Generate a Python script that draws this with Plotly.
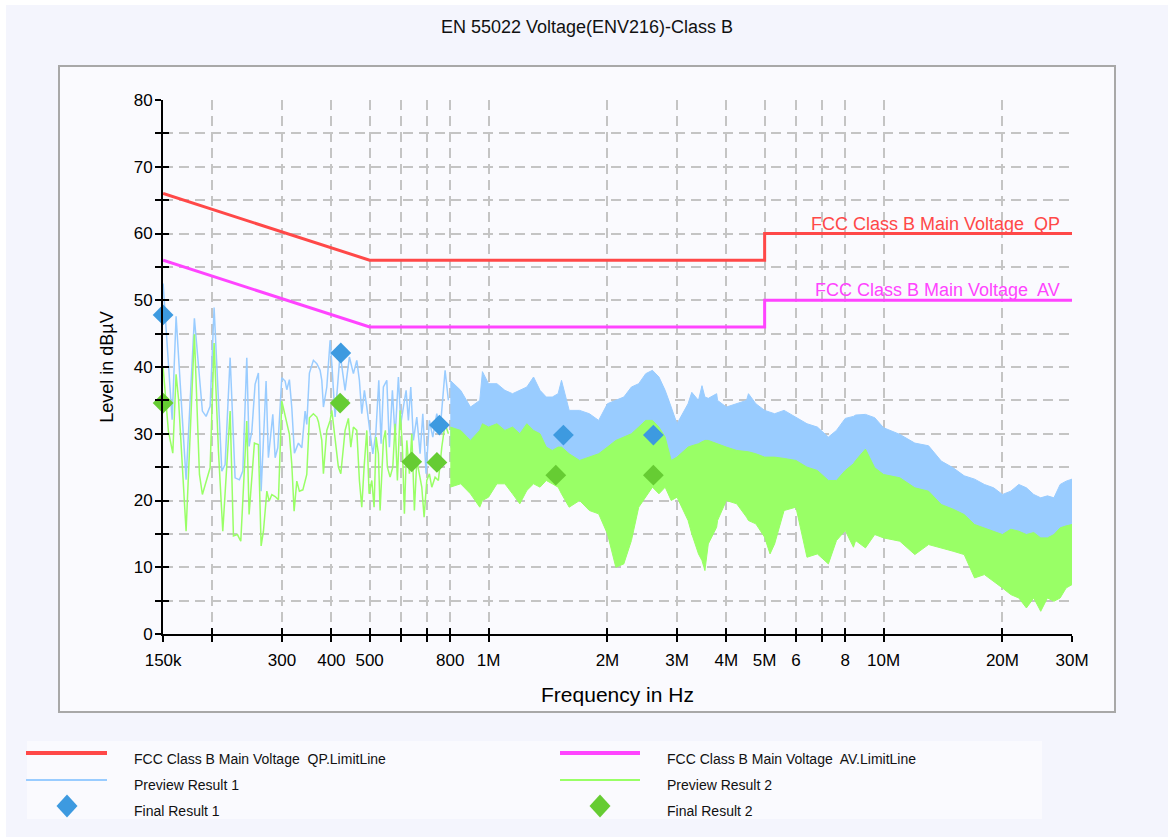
import numpy as np
import plotly.graph_objects as go

# ---------------- data ----------------
# Limit lines (frequency in MHz, level in dBuV)
limit_freq_mhz = [0.15, 0.5, 5.0, 5.0, 30.0]
qp_limit = [66, 56, 56, 60, 60]
av_limit = [56, 46, 46, 50, 50]

# Preview scans, sparse low-frequency part (frequency in kHz)
prev1_freq_khz = [150.0, 158.1, 161.8, 171.5, 180.0, 188.6, 192.7, 197.3, 201.9, 211.2,
                  215.3, 221.7, 228.2, 234.0, 238.7, 244.3, 247.6, 251.6, 256.4, 261.4,
                  265.6, 273.4, 277.1, 284.3, 288.2, 292.7, 299.6, 305.5, 308.5, 313.2,
                  317.6, 322.5, 330.1, 336.7, 343.2, 346.6, 351.9, 360.2, 367.5, 374.6,
                  378.3, 381.9, 389.5, 397.1, 401.0, 408.8, 420.9, 433.3, 444.3, 454.8,
                  463.9, 471.0, 477.6, 484.9, 491.8, 501.3, 509.3, 518.3, 527.4, 534.5,
                  541.7, 552.6, 561.0, 570.9, 580.0, 591.2, 599.6, 608.7, 618.4, 626.7,
                  635.5, 645.3, 658.2, 671.0, 681.6, 694.8, 708.3, 722.5, 739.5, 753.9,
                  776.2, 791.3]
prev1_level = [52.5, 32.1, 47.6, 23.1, 47.3, 33.4, 32.6, 34.1, 48.9, 24.4,
               25.4, 41.4, 23.4, 23.1, 24.4, 41.4, 28.1, 30.4, 37.4, 39.1,
               21.4, 37.9, 26.4, 32.9, 26.4, 27.9, 38.4, 37.9, 36.6, 38.1,
               33.9, 27.1, 28.6, 27.9, 33.4, 31.4, 39.1, 41.0, 40.5, 39.5,
               38.0, 34.0, 37.0, 44.0, 40.5, 32.5, 42.0, 36.5, 41.5, 39.0,
               41.0, 38.0, 33.0, 36.5, 34.0, 30.0, 27.0, 30.0, 38.0, 28.5,
               37.0, 38.0, 28.0, 36.5, 29.5, 38.5, 31.5, 34.0, 36.5, 32.0,
               37.0, 29.0, 32.5, 27.0, 33.0, 24.0, 32.0, 29.5, 33.0, 30.5,
               39.5, 35.0]

prev2_freq_khz = [150.0, 154.7, 158.7, 161.8, 164.0, 171.5, 180.0, 185.4, 188.6, 197.3,
                  201.9, 207.1, 212.4, 221.7, 226.0, 231.3, 235.9, 244.3, 247.6, 255.4,
                  261.4, 265.6, 269.2, 274.6, 278.3, 282.7, 288.2, 293.8, 299.6, 305.5,
                  313.2, 317.6, 321.9, 327.0, 332.0, 338.7, 346.6, 351.9, 353.4, 360.2,
                  367.5, 370.9, 378.3, 381.9, 389.5, 397.1, 401.0, 408.8, 416.7, 422.6,
                  433.3, 441.7, 448.0, 454.8, 463.9, 471.0, 477.6, 484.1, 491.8, 498.4,
                  506.3, 513.1, 519.2, 526.2, 531.4, 541.7, 548.1, 554.5, 563.3, 572.2,
                  580.0, 587.8, 597.1, 605.2, 612.3, 620.9, 630.4, 639.3, 649.0, 658.2,
                  668.2, 677.6, 686.8, 697.7, 708.3, 718.3, 732.3, 746.5, 761.4, 776.2,
                  791.3]
prev2_level = [39.9, 30.4, 27.1, 38.9, 35.4, 15.4, 44.9, 23.9, 20.9, 24.9,
               43.6, 27.4, 15.4, 33.4, 14.7, 14.9, 13.9, 31.9, 17.9, 28.6,
               28.4, 13.2, 15.4, 21.4, 19.9, 20.9, 20.6, 20.1, 34.9, 32.9,
               29.9, 25.4, 18.4, 22.9, 21.4, 21.6, 23.9, 32.4, 32.5, 33.0,
               32.5, 31.8, 29.0, 24.0, 30.5, 32.0, 33.5, 29.5, 25.0, 24.0,
               30.5, 32.3, 28.0, 31.0, 30.5, 23.0, 19.0, 25.0, 30.5, 21.0,
               23.0, 19.0, 29.5, 27.0, 18.5, 29.0, 30.5, 25.0, 23.5, 25.0,
               31.5, 23.0, 33.5, 28.0, 18.0, 29.0, 24.0, 30.0, 18.5, 26.0,
               24.0, 22.0, 17.5, 23.0, 24.0, 22.0, 23.5, 23.0, 28.0, 31.5,
               30.0]

# Preview scans, dense part above 800 kHz: upper / lower envelope (frequency in MHz)
band_freq_mhz = [0.8, 0.85, 0.9, 0.95, 0.965, 1.0, 1.05, 1.1, 1.15, 1.2,
                 1.25, 1.3, 1.35, 1.4, 1.45, 1.5, 1.53, 1.6, 1.7, 1.8,
                 1.9, 2.0, 2.1, 2.2, 2.3, 2.4, 2.5, 2.6, 2.7, 2.8,
                 2.9, 3.0, 3.2, 3.27, 3.4, 3.47, 3.53, 3.6, 3.78, 3.8, 4.0, 4.25, 4.5,
                 4.55, 4.75, 5.0, 5.16, 5.3, 5.6, 6.0, 6.4, 6.8, 7.25, 7.6, 8.0,
                 8.39, 8.5, 9.0, 9.5, 10, 11, 12, 13, 14, 15, 16,
                 17, 18, 19, 20, 21, 22, 23, 24, 25, 26,
                 27, 28, 29, 30]
prev1_upper = [38.0, 36.5, 34.0, 35.0, 39.3, 37.5, 37.5, 36.5, 36.0, 36.5,
               37.0, 38.5, 36.5, 35.5, 35.5, 36.0, 38.0, 33.5, 33.5, 33.0,
               32.0, 34.5, 35.0, 35.5, 37.0, 37.5, 39.0, 39.5, 38.5, 36.5,
               34.0, 31.5, 34.5, 36.2, 35.0, 37.2, 35.5, 35.3, 36.0, 35.0, 34.0, 34.5, 35.0,
               36.0, 34.5, 33.5, 33.2, 33.0, 33.5, 32.5, 31.5, 31.0, 29.5, 30.5, 32.3,
               32.6, 32.8, 32.9, 32.4, 30.9, 29.9, 28.6, 28.2, 25.9, 24.9, 23.7,
               23.2, 22.4, 21.9, 20.9, 21.4, 22.4, 21.9, 20.9, 20.4, 20.7,
               20.4, 22.4, 22.9, 23.2]
prev1_lower = [28.0, 28.0, 26.5, 27.0, 27.0, 28.0, 29.0, 28.0, 28.5, 27.5,
               29.0, 28.0, 27.5, 26.0, 25.5, 26.0, 26.0, 25.0, 24.0, 24.5,
               25.0, 26.0, 27.0, 27.5, 28.0, 29.0, 30.0, 30.0, 29.0, 27.5,
               24.5, 25.0, 26.0, 26.2, 26.5, 26.5, 26.5, 27.0, 26.5, 26.5, 26.0, 25.5, 25.3,
               25.3, 25.0, 24.5, 24.5, 24.5, 24.3, 24.0, 23.0, 22.5, 21.5, 21.5, 22.5,
               23.5, 24.0, 25.0, 23.0, 22.0, 21.5, 20.0, 19.5, 17.5, 17.0, 16.0,
               15.0, 14.5, 14.0, 13.5, 14.0, 13.5, 13.5, 13.5, 13.0, 13.0,
               13.5, 14.0, 14.5, 15.0]
prev2_upper = [31.0, 30.5, 29.0, 30.5, 31.5, 31.0, 31.5, 30.5, 31.0, 30.0,
               31.5, 30.5, 30.0, 28.0, 27.5, 28.0, 28.0, 27.0, 26.0, 26.5,
               27.0, 28.0, 29.0, 29.5, 30.0, 31.0, 32.0, 32.0, 31.0, 29.5,
               26.0, 26.5, 28.0, 28.2, 28.5, 28.8, 29.0, 29.0, 28.5, 28.5, 28.0, 27.5, 27.3,
               27.3, 27.0, 26.5, 26.5, 26.5, 26.3, 26.0, 25.0, 24.5, 23.0, 23.0, 24.5,
               25.5, 26.0, 27.7, 24.9, 23.9, 23.4, 21.9, 21.4, 19.4, 18.7, 17.9,
               16.4, 15.9, 15.4, 14.9, 15.7, 15.4, 14.9, 15.2, 14.4, 14.4,
               14.9, 15.9, 16.2, 16.4]
prev2_lower = [22.0, 22.5, 21.0, 19.0, 20.0, 20.5, 22.5, 22.5, 21.0, 19.5,
               21.5, 22.5, 22.0, 23.0, 22.5, 22.0, 21.0, 19.0, 20.0, 18.5,
               18.0, 15.0, 10.0, 10.5, 14.0, 19.0, 20.5, 22.0, 21.0, 22.0,
               20.0, 20.5, 17.0, 15.0, 12.0, 11.0, 9.5, 13.5, 16.0, 17.0, 20.0, 19.5, 17.5,
               17.0, 16.5, 14.5, 12.0, 13.5, 18.5, 19.0, 11.5, 12.0, 10.5, 14.0, 15.5,
               13.0, 14.0, 12.9, 14.9, 14.4, 13.9, 11.9, 13.4, 12.9, 12.4, 11.9,
               8.4, 8.9, 7.9, 6.9, 5.9, 5.4, 3.9, 5.4, 3.4, 5.4,
               4.9, 5.4, 6.9, 7.4]

# Final (re-measured) results, frequency in MHz
final1_freq_mhz = [0.150, 0.4226, 0.751, 1.547, 2.614]
final1_level = [47.8, 42.1, 31.3, 29.8, 29.8]
final2_freq_mhz = [0.150, 0.421, 0.639, 0.740, 1.480, 2.614]
final2_level = [34.6, 34.6, 25.8, 25.7, 23.8, 23.8]

# Axis ticks
x_tick_hz = [150e3, 200e3, 300e3, 400e3, 500e3, 600e3, 700e3, 800e3, 1e6,
             2e6, 3e6, 4e6, 5e6, 6e6, 7e6, 8e6, 10e6, 20e6, 30e6]
x_tick_text = ["150k", "", "300", "400", "500", "", "", "800", "1M",
               "2M", "3M", "4M", "5M", "6", "", "8", "10M", "20M", "30M"]
y_tick_vals = list(range(0, 81, 5))
y_tick_text = [str(v) if v % 10 == 0 else "" for v in y_tick_vals]

# ---------------- styles ----------------
FONT = "Liberation Sans, Arial, sans-serif"
C_QP = "#ff4848"
C_AV = "#ff44ff"
C_P1 = "#99ccff"
C_P2 = "#99ff66"
C_F1 = "#3d9ae0"
C_F2 = "#66cc33"
GRID = "#c4c4c4"

W, H = 1168, 837
L, R, T, B = 163, 96, 100, 203
PW, PH = W - L - R, H - T - B


def px(xp):
    return (xp - L) / PW


def py(yp):
    return (H - B - yp) / PH


mhz = lambda v: np.asarray(v, dtype=float) * 1e6
khz = lambda v: np.asarray(v, dtype=float) * 1e3

fig = go.Figure()

fig.add_trace(go.Scatter(x=mhz(limit_freq_mhz), y=qp_limit, mode="lines",
                         name="FCC Class B Main Voltage  QP.LimitLine",
                         line=dict(color=C_QP, width=3)))
fig.add_trace(go.Scatter(x=mhz(limit_freq_mhz), y=av_limit, mode="lines",
                         name="FCC Class B Main Voltage  AV.LimitLine",
                         line=dict(color=C_AV, width=3)))

# Preview Result 1
fig.add_trace(go.Scatter(x=khz(prev1_freq_khz), y=prev1_level, mode="lines",
                         name="Preview Result 1", line=dict(color=C_P1, width=1.5)))
bf = mhz(band_freq_mhz)
fig.add_trace(go.Scatter(x=np.concatenate([bf, bf[::-1]]),
                         y=np.concatenate([prev1_upper, prev1_lower[::-1]]),
                         mode="lines", fill="toself", fillcolor=C_P1,
                         line=dict(color=C_P1, width=1), name="Preview Result 1",
                         hoverinfo="skip"))
# Preview Result 2
fig.add_trace(go.Scatter(x=khz(prev2_freq_khz), y=prev2_level, mode="lines",
                         name="Preview Result 2", line=dict(color=C_P2, width=1.5)))
fig.add_trace(go.Scatter(x=np.concatenate([bf, bf[::-1]]),
                         y=np.concatenate([prev2_upper, prev2_lower[::-1]]),
                         mode="lines", fill="toself", fillcolor=C_P2,
                         line=dict(color=C_P2, width=1), name="Preview Result 2",
                         hoverinfo="skip"))

fig.add_trace(go.Scatter(x=mhz(final1_freq_mhz), y=final1_level, mode="markers",
                         name="Final Result 1", cliponaxis=False,
                         marker=dict(symbol="diamond", size=16, color=C_F1, line=dict(width=0))))
fig.add_trace(go.Scatter(x=mhz(final2_freq_mhz), y=final2_level, mode="markers",
                         name="Final Result 2", cliponaxis=False,
                         marker=dict(symbol="diamond", size=16, color=C_F2, line=dict(width=0))))

# Carrier for the overlaid tick axes (draws nothing visible)
fig.add_trace(go.Scatter(x=mhz(limit_freq_mhz), y=qp_limit, xaxis="x2", yaxis="y2",
                         mode="lines", line=dict(width=0), opacity=0,
                         hoverinfo="skip", name="axis carrier"))

# Limit line captions
x_end = np.log10(mhz(limit_freq_mhz)[-1])
annotations = [
    dict(x=x_end, y=qp_limit[-1], xref="x", yref="y", text="FCC Class B Main Voltage  QP",
         showarrow=False, xanchor="right", yanchor="bottom", xshift=-10, yshift=-2,
         font=dict(family=FONT, size=18, color=C_QP)),
    dict(x=x_end, y=av_limit[-1], xref="x", yref="y", text="FCC Class B Main Voltage  AV",
         showarrow=False, xanchor="right", yanchor="bottom", xshift=-10, yshift=-2,
         font=dict(family=FONT, size=18, color=C_AV)),
]

shapes = [
    # page background and chart frame
    dict(type="rect", xref="paper", yref="paper", x0=px(6), x1=px(W), y0=py(5), y1=py(H),
         fillcolor="#f4f5fd", line=dict(width=0), layer="below"),
    dict(type="rect", xref="paper", yref="paper", x0=px(59), x1=px(1115), y0=py(66), y1=py(712),
         fillcolor="#fafafe", line=dict(color="#a8a8a8", width=2), layer="below"),
    dict(type="rect", xref="paper", yref="paper", x0=px(27), x1=px(1042), y0=py(741), y1=py(819),
         fillcolor="#fafafe", line=dict(width=0), layer="below"),
]

# Legend (two columns, three rows)
legend_rows = [
    ("FCC Class B Main Voltage  QP.LimitLine", C_QP, "line", 4, 26, 107, 132, 753, 759),
    ("FCC Class B Main Voltage  AV.LimitLine", C_AV, "line", 4, 560, 640, 665, 753, 759),
    ("Preview Result 1", C_P1, "line", 2, 26, 107, 132, 780, 785),
    ("Preview Result 2", C_P2, "line", 2, 560, 640, 665, 780, 785),
    ("Final Result 1", C_F1, "diamond", 0, 26, 107, 132, 806, 811),
    ("Final Result 2", C_F2, "diamond", 0, 560, 640, 665, 806, 811),
]
for text, col, kind, lw, x0, x1, xt, ys, yt in legend_rows:
    if kind == "line":
        shapes.append(dict(type="line", xref="paper", yref="paper",
                           x0=px(x0), x1=px(x1), y0=py(ys), y1=py(ys),
                           line=dict(color=col, width=lw), layer="above"))
    else:
        cx = 67 if x0 < 300 else 600
        path = (f"M {px(cx - 10.5)},{py(ys)} L {px(cx)},{py(ys - 11.5)} "
                f"L {px(cx + 10.5)},{py(ys)} L {px(cx)},{py(ys + 11.5)} Z")
        shapes.append(dict(type="path", xref="paper", yref="paper", path=path,
                           fillcolor=col, line=dict(width=0), layer="above"))
    annotations.append(dict(x=px(xt), y=py(yt), xref="paper", yref="paper", text=text,
                            showarrow=False, xanchor="left", yanchor="middle",
                            font=dict(family=FONT, size=14, color="#111111")))

# range opens a hair below 150 kHz so the edge markers stay visible
x_range = [np.log10(149.9e3), np.log10(30e6)]

fig.update_layout(
    width=W, height=H,
    margin=dict(l=L, r=R, t=T, b=B, autoexpand=False),
    paper_bgcolor="#ffffff",
    plot_bgcolor="#fafafe",
    showlegend=False,
    font=dict(family=FONT, color="#000000"),
    title=dict(text="EN 55022 Voltage(ENV216)-Class B", x=587 / W, xref="container",
               xanchor="center", y=1 - 27 / H, yref="container", yanchor="middle",
               font=dict(family=FONT, size=18, color="#111111")),
    xaxis=dict(type="log", range=x_range, tickmode="array", tickvals=x_tick_hz,
               ticktext=x_tick_text, showgrid=True, gridcolor=GRID, gridwidth=1.5,
               griddash="10px,6px", showline=True, linecolor="#000000", linewidth=2,
               ticks="outside", ticklen=6, tickwidth=2, tickcolor="#000000",
               tickfont=dict(family=FONT, size=17, color="#000000"), ticklabelstandoff=4,
               zeroline=False,
               title=dict(text="Frequency in Hz", standoff=18,
                          font=dict(family=FONT, size=21, color="#000000"))),
    yaxis=dict(range=[0, 80], tickmode="array", tickvals=y_tick_vals, ticktext=y_tick_text,
               showgrid=True, gridcolor=GRID, gridwidth=1.5, griddash="10px,6px",
               showline=True, linecolor="#000000", linewidth=2,
               ticks="outside", ticklen=6, tickwidth=2, tickcolor="#000000",
               tickfont=dict(family=FONT, size=17, color="#000000"), ticklabelstandoff=-1,
               zeroline=False,
               title=dict(text="Level in dBµV", standoff=15,
                          font=dict(family=FONT, size=18, color="#000000"))),
    xaxis2=dict(type="log", range=x_range, overlaying="x", anchor="y", side="bottom",
                tickmode="array", tickvals=x_tick_hz, ticks="inside", ticklen=6, tickwidth=2,
                tickcolor="#000000", showticklabels=False, showgrid=False, showline=False,
                zeroline=False),
    yaxis2=dict(range=[0, 80], overlaying="y", anchor="x", side="left",
                tickmode="array", tickvals=y_tick_vals, ticks="inside", ticklen=6, tickwidth=2,
                tickcolor="#000000", showticklabels=False, showgrid=False, showline=False,
                zeroline=False),
    shapes=shapes,
    annotations=annotations,
)

fig.write_html("out.html")
